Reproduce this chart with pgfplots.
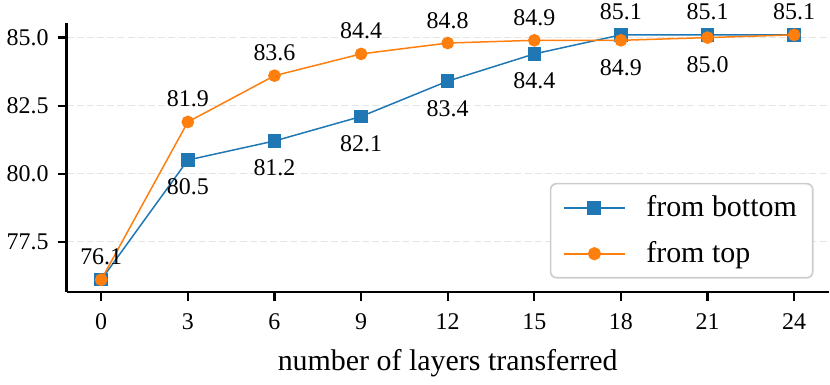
\documentclass[border={0pt 0pt 0pt 2pt}]{standalone}
\usepackage{pgfplots}
\pgfplotsset{compat=1.18}
\usepackage{pgfplotstable}
\usepackage{fontspec}
\setmainfont{Liberation Serif}

\definecolor{tabblue}{HTML}{1F77B4}
\definecolor{taborange}{HTML}{FF7F0E}
\definecolor{gridgray}{HTML}{E5E5E5}
\definecolor{legendgray}{HTML}{CCCCCC}

% x = layers transferred, lab = printed value, dy = baseline offset of label (pt)
\pgfplotstableread{
x   y     lab   dy
0   76.1  {}    7.5
3   80.5  80.5  -17.5
6   81.2  81.2  -17.5
9   82.1  82.1  -17.5
12  83.4  83.4  -17.5
15  84.4  84.4  -17.5
18  85.1  85.1  7.5
21  85.1  85.1  7.5
24  85.1  85.1  7.5
}\frombottom

\pgfplotstableread{
x   y     lab   dy
0   76.1  76.1  7.5
3   81.9  81.9  7.5
6   83.6  83.6  7.5
9   84.4  84.4  7.5
12  84.8  84.8  7.5
15  84.9  84.9  7.5
18  84.9  84.9  -17.5
21  85.0  85.0  -17.5
24  85.1  {}    7.5
}\fromtop

\begin{document}
\begin{tikzpicture}
\begin{axis}[
  scale only axis,
  width=382pt, height=135pt,
  xmin=-1.2, xmax=25.2,
  ymin=75.65, ymax=85.55,
  clip mode=individual,
  axis lines=left,
  axis line style={-, line width=1.2pt},
  tick align=outside,
  major tick length=4.5pt,
  tick style={line width=1.1pt, black},
  xtick={0,3,...,24},
  ytick={77.5,80,82.5,85},
  yticklabel style={xshift=-1pt, /pgf/number format/.cd, fixed, fixed zerofill, precision=1},
  /pgf/number format/assume math mode=true,
  ticklabel style={font=\fontsize{12}{14}\selectfont},
  xticklabel style={yshift=-3pt},
  ymajorgrids,
  major grid style={gridgray, line width=0.7pt, dash pattern=on 3.5pt off 1.6pt},
  xlabel={number of layers transferred},
  xlabel style={font=\fontsize{15}{18}\selectfont, yshift=-3pt},
  legend style={at={(0.98,0.05)}, anchor=south east,
    draw=legendgray, line width=0.8pt, rounded corners=3pt,
    font=\fontsize{15}{18}\selectfont,
    inner xsep=6pt, inner ysep=4pt, row sep=7pt},
  legend cell align=left,
  legend image code/.code={
    \draw[line width=1pt, mark repeat=2, mark phase=2]
      plot coordinates {(0pt,0pt) (15.5pt,0pt) (31pt,0pt)};},
  point meta=explicit symbolic,
  nodes near coords,
  visualization depends on={\thisrow{dy} \as \dy},
  nodes near coords style={anchor=base, inner sep=0pt, yshift=\dy pt,
    text=black, font=\fontsize{12}{14}\selectfont},
]
  \addplot[tabblue, line width=0.75pt, mark=square*, mark size=3pt,
    mark options={solid}] table[x=x, y=y, meta=lab] {\frombottom};
  \addlegendentry{\hspace*{8pt}from bottom}
  \addplot[taborange, line width=0.75pt, mark=*, mark size=2.8pt,
    mark options={solid}] table[x=x, y=y, meta=lab] {\fromtop};
  \addlegendentry{\hspace*{8pt}from top}
\end{axis}
\end{tikzpicture}
\end{document}
